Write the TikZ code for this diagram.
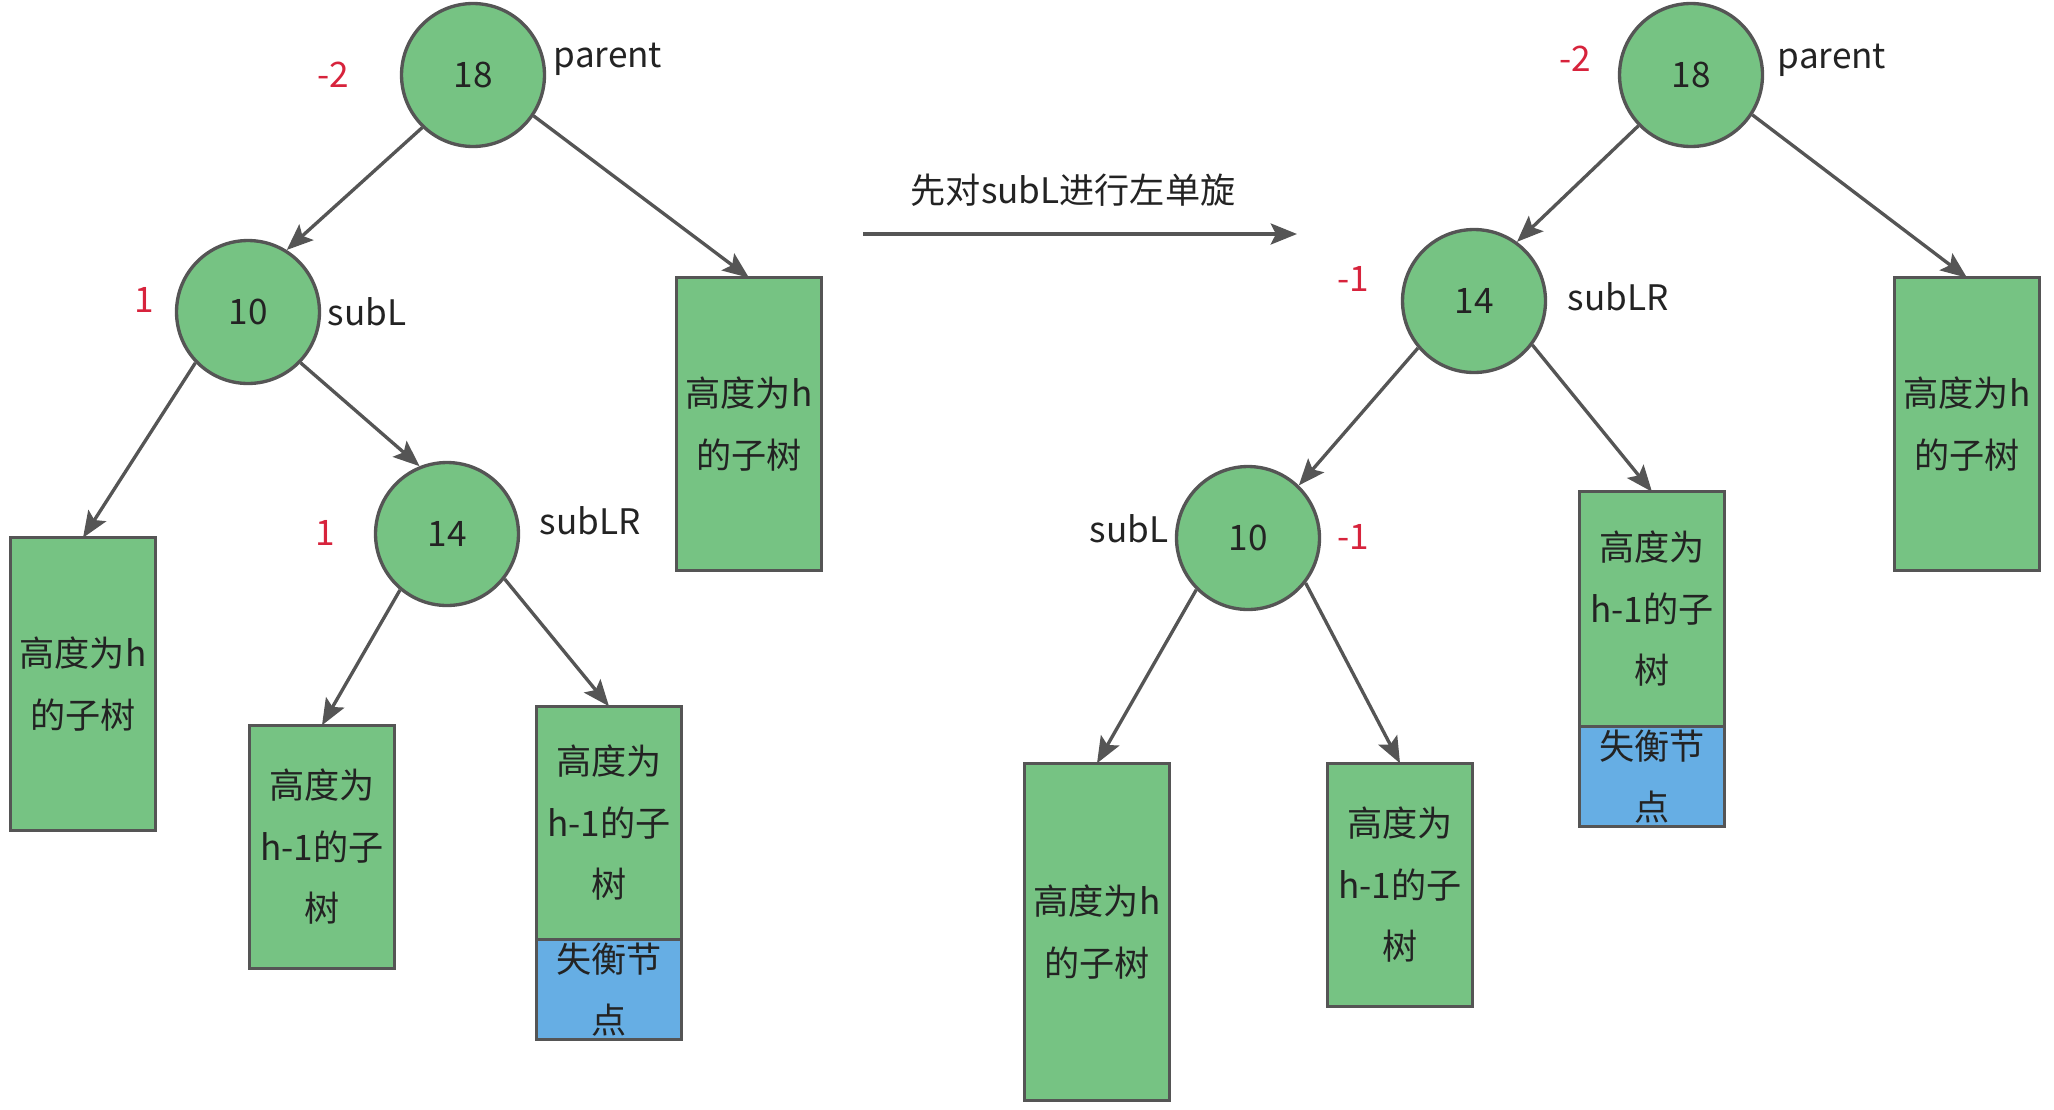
\documentclass[tikz,border=0pt]{standalone}
\usepackage{fontspec}
\setmainfont{Noto Sans CJK SC}
\usetikzlibrary{arrows.meta,positioning}
\definecolor{nodegreen}{RGB}{118,195,131}
\definecolor{lossblue}{RGB}{102,174,228}
\definecolor{edgegray}{RGB}{85,85,85}
\definecolor{txtgray}{RGB}{35,35,35}
\definecolor{bfred}{RGB}{215,35,60}

\begin{document}
\begin{tikzpicture}[x=0.02cm,y=-0.02cm,font=\fontsize{20}{35}\selectfont,
  >={Stealth[length=15pt,width=12pt,inset=3pt]},
  nd/.style={circle,draw=edgegray,line width=1.9pt,fill=nodegreen,minimum size=2.86cm,inner sep=0pt,text=txtgray},
  tb/.style={draw=edgegray,line width=1.9pt,fill=nodegreen,minimum width=2.89cm,inner sep=0pt,outer sep=0pt,align=center,text=txtgray},
  lossbox/.style={tb,fill=lossblue},
  lab/.style={text=txtgray},
  bf/.style={text=bfred},
  ed/.style={->,draw=edgegray,line width=1.9pt}]
\useasboundingbox (0,0) rectangle (2054,1109);
% left tree
\node[nd] (lp18) at (473,75) {18};
\node[nd] (ls10) at (248,312) {10};
\node[nd] (lr14) at (447,534) {14};
\node[tb,minimum height=5.85cm] (lhR) at (749,424) {高度为h\\的子树};
\node[tb,minimum height=5.85cm] (lhL) at (83,684) {高度为h\\的子树};
\node[tb,minimum height=4.87cm] (lh1a) at (322,847) {高度为\\h-1的子\\树};
\node[tb,minimum height=4.67cm] (lh1b) at (609,823) {高度为\\h-1的子\\树};
\node[lossbox,minimum height=2.0cm,below=0pt of lh1b] (lloss) {失衡节\\点};
\node[bf] at (333,75) {-2};
\node[lab] at (608,59) {parent};
\node[bf] at (144,300) {1};
\node[lab] at (367,312) {subL};
\node[bf] at (325,533) {1};
\node[lab] at (590,521) {subLR};
\draw[ed] (lp18.-134) -- (ls10.58);
\draw[ed] (lp18.-34) -- (lhR.north);
\draw[ed] (ls10.-136) -- (lhL.north);
\draw[ed] (ls10.-44) -- (lr14.112);
\draw[ed] (lr14.-130) -- (lh1a.north);
\draw[ed] (lr14.-38) -- (lh1b.north);
% rotation step
\coordinate (rotA) at (863,234);
\coordinate (rotB) at (1297,234);
\draw[ed] (rotA) -- (rotB);
\node[lab] (rotlab) at (1073,190) {先对subL进行左单旋};
% right tree
\node[nd] (rp18) at (1691,75) {18};
\node[nd] (rr14) at (1474,301) {14};
\node[nd] (rs10) at (1248,538) {10};
\node[tb,minimum height=5.85cm] (rhR) at (1967,424) {高度为h\\的子树};
\node[tb,minimum height=4.69cm] (rh1b) at (1652,609) {高度为\\h-1的子\\树};
\node[lossbox,minimum height=2.01cm,below=0pt of rh1b] (rloss) {失衡节\\点};
\node[tb,minimum height=6.75cm] (rhL) at (1097,932) {高度为h\\的子树};
\node[tb,minimum height=4.87cm] (rh1a) at (1400,885) {高度为\\h-1的子\\树};
\node[bf] at (1575,59) {-2};
\node[lab] at (1832,60) {parent};
\node[bf] at (1353,279) {-1};
\node[lab] at (1618,297) {subLR};
\node[lab] at (1129,529) {subL};
\node[bf] at (1353,537) {-1};
\draw[ed] (rp18.-136) -- (rr14.54);
\draw[ed] (rp18.-33) -- (rhR.north);
\draw[ed] (rr14.-140) -- (rs10.46);
\draw[ed] (rr14.-37) -- (rh1b.north);
\draw[ed] (rs10.-135) -- (rhL.north);
\draw[ed] (rs10.-38) -- (rh1a.north);
\end{tikzpicture}
\end{document}
